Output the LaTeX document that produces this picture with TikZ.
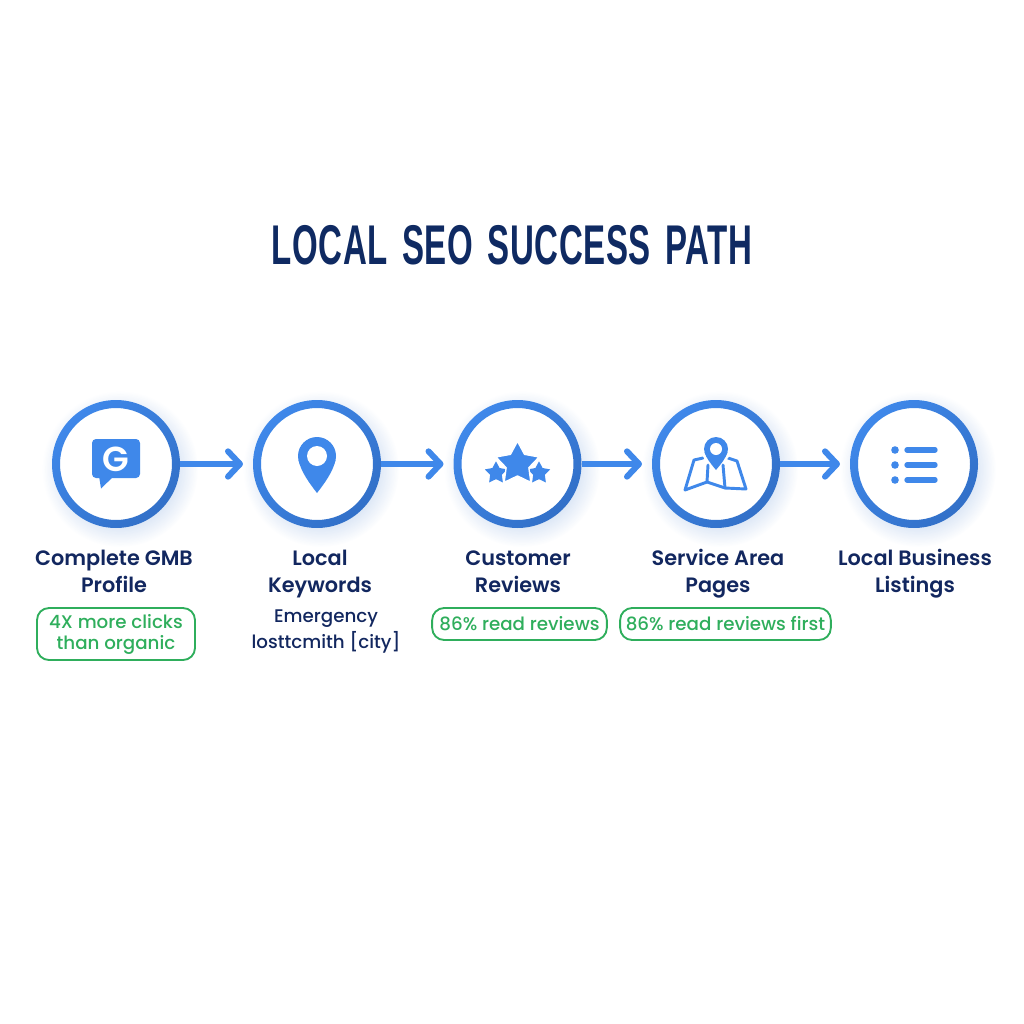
\documentclass[tikz,border=0pt]{standalone}
\usepackage{fontspec}
\setmainfont{Poppins Medium}[BoldFont=Poppins SemiBold]
\newfontfamily\titlefont[FakeStretch=0.59,LetterSpace=1,WordSpace=1.5]{Liberation Sans}
\usetikzlibrary{arrows.meta,fadings,shapes.geometric}
\definecolor{ringblue}{HTML}{3F88EA}
\definecolor{ringdark}{HTML}{3270C8}
\definecolor{navy}{HTML}{12275F}
\definecolor{titlenavy}{HTML}{0F2A62}
\definecolor{statgreen}{HTML}{2FAE5C}
\tikzfading[name=softglow, inner color=transparent!0, outer color=transparent!100]
\tikzset{
    stepcircle/.style={circle, fill=white, minimum size=96pt, inner sep=0pt, outer sep=0pt},
    glow/.style={fill=ringdark, opacity=.6, path fading=softglow},
    ring/.style={even odd rule, top color=ringblue, middle color=ringblue, bottom color=ringdark, shading angle=45},
    flowarrow/.style={draw=ringblue, line width=4.5pt, -{Straight Barb[round, length=9pt, width=19pt]}, shorten >=7.5pt},
    steplabel/.style={align=center, text=navy, anchor=base, font=\fontsize{15.6}{19.8}\selectfont\bfseries},
    stat/.style={draw=statgreen, line width=1.4pt, rounded corners=9pt, align=center, text=statgreen, inner sep=0pt, font=\fontsize{13.7}{15.8}\selectfont},
    note/.style={align=center, text=navy, anchor=base, font=\fontsize{13.7}{19}\selectfont},
    smallstar/.style={star, star points=5, star point ratio=1.9, fill=ringblue, inner sep=0pt, minimum size=17.5pt, line join=round},
    mapline/.style={draw=ringblue, line width=2.2pt, line join=round, line cap=round},
    listbar/.style={draw=ringblue, line width=4pt, line cap=round},
}
\begin{document}
\begin{tikzpicture}[x=0.75pt, y=-0.75pt]
    \useasboundingbox (0, 0) rectangle (1024, 1024);
    % Title
    \node[text=titlenavy, font=\titlefont\bfseries\fontsize{42}{42}\selectfont] (title) at (512, 245) {LOCAL SEO SUCCESS PATH};
    % Shadows
    \fill[glow] (120, 469) circle (78);
    \fill[glow] (321, 469) circle (78);
    \fill[glow] (522, 469) circle (78);
    \fill[glow] (720, 469) circle (78);
    \fill[glow] (918, 469) circle (78);
    % Circles
    \node[stepcircle] (gmb) at (116, 464) {};
    \node[stepcircle] (keywords) at (317, 464) {};
    \node[stepcircle] (reviews) at (517.5, 464) {};
    \node[stepcircle] (pages) at (716, 464) {};
    \node[stepcircle] (listings) at (914, 464) {};
    % Rings
    \path[ring] (116, 464) circle (64) circle (56);
    \path[ring] (317, 464) circle (64) circle (56);
    \path[ring] (517.5, 464) circle (64) circle (56);
    \path[ring] (716, 464) circle (64) circle (56);
    \path[ring] (914, 464) circle (64) circle (56);
    % Arrows
    \draw[flowarrow] (gmb) -- (keywords);
    \draw[flowarrow] (keywords) -- (reviews);
    \draw[flowarrow] (reviews) -- (pages);
    \draw[flowarrow] (pages) -- (listings);
    % G bubble
    \fill[ringblue, rounded corners=3pt] (92, 439) -- (140, 439) -- (140, 478) -- (92, 478) -- cycle;
    \fill[ringblue] (99, 476) -- (114, 476) -- (101, 488.5) -- cycle;
    \node[text=white, font=\fontsize{26}{26}\selectfont\bfseries] (gletter) at (116, 459) {G};
    % Pin
    \fill[ringblue] (298.5, 460) .. controls (301, 472) and (310, 484) .. (317, 493) .. controls (324, 484) and (333, 472) .. (335.5, 460) -- cycle;
    \fill[ringblue] (317, 456) circle (19);
    \fill[white] (317, 456) circle (10);
    % Stars
    \node[smallstar] (starleft) at (496, 473) {};
    \node[smallstar] (starright) at (539, 473) {};
    \node[smallstar, minimum size=34pt, draw=white, line width=1pt] (starmain) at (517.5, 464) {};
    % Map
    \draw[mapline] (703, 458) -- (694, 460) -- (685, 490) -- (707, 482) -- (725, 488) -- (746, 489) -- (737, 461) -- (728, 458);
    \draw[mapline] (707, 482) -- (708, 465);
    \draw[mapline] (725, 488) -- (723, 465);
    \fill[white] (716, 449) circle (15);
    \fill[ringblue] (704.5, 452) .. controls (706, 458) and (711, 464) .. (716, 470) .. controls (721, 464) and (726, 458) .. (727.5, 452) -- cycle;
    \fill[ringblue] (716, 449) circle (12);
    \fill[white] (716, 449) circle (6);
    % List
    \fill[ringblue] (895, 450) circle (3.8);
    \fill[ringblue] (895, 465) circle (3.8);
    \fill[ringblue] (895, 480) circle (3.8);
    \draw[listbar] (907, 450) -- (935, 450);
    \draw[listbar] (907, 465) -- (935, 465);
    \draw[listbar] (907, 480) -- (935, 480);
    % Labels
    \node[steplabel] (gmblabel) at (114, 592) {Complete GMB\\Profile};
    \node[steplabel] (keywordslabel) at (320, 592) {Local\\Keywords};
    \node[steplabel] (reviewslabel) at (518, 592) {Customer\\Reviews};
    \node[steplabel] (pageslabel) at (718, 592) {Service Area\\Pages};
    \node[steplabel] (listingslabel) at (915, 592) {Local Business\\Listings};
    % Stats
    \node[stat, minimum width=118.5pt, minimum height=39pt] (gmbstat) at (116, 634) {4X more clicks\\than organic};
    \node[note] (keywordsnote) at (326, 648) {Emergency\\losttcmith [city]};
    \node[stat, minimum width=131pt, minimum height=24pt] (reviewsstat) at (519.5, 624) {86\% read reviews};
    \node[stat, minimum width=158pt, minimum height=24pt] (pagesstat) at (725.5, 624) {86\% read reviews first};
\end{tikzpicture}
\end{document}
